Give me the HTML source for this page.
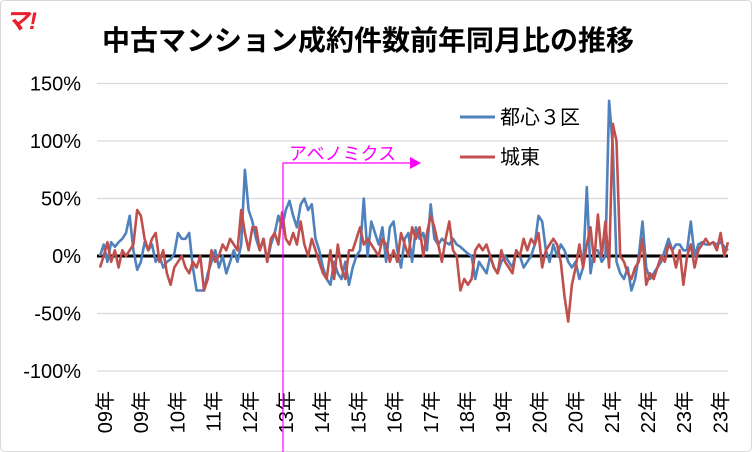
<!DOCTYPE html>
<html><head><meta charset="utf-8"><style>
body{margin:0;background:#fff}
svg{display:block;font-family:"Liberation Sans","Noto Sans CJK JP",sans-serif}
</style></head><body>
<svg width="752" height="452" viewBox="0 0 752 452">
<rect x="0.5" y="0.5" width="751" height="451" rx="4" fill="#fff" stroke="#d9d9d9"/>
<text x="5" y="29" font-size="24" font-weight="bold" font-style="italic" fill="#e8202a">マ!</text>
<text x="102" y="50" font-size="28" font-weight="bold" fill="#000">中古マンション成約件数前年同月比の推移</text>
<g id="grid"></g><g id="ylab"></g><g id="xlab"></g>
<line x1="97" y1="256" x2="728" y2="256" stroke="#000" stroke-width="3"/>
<g id="series"></g>
<g>
<line x1="460" y1="117" x2="495" y2="117" stroke="#4f81bd" stroke-width="3"/>
<text x="500" y="124" font-size="20">都心３区</text>
<line x1="460" y1="157" x2="495" y2="157" stroke="#c0504d" stroke-width="3"/>
<text x="500" y="164" font-size="20">城東</text>
</g>
<g>
<text x="289" y="160" font-size="18" fill="#ff00ff">アベノミクス</text>
<polyline points="283,452 283,163 412,163" fill="none" stroke="#ff00ff" stroke-width="1.2"/>
<polygon points="410,157 421,163 410,169" fill="#ff00ff"/>
</g>
</svg>
<script>
const yTicks=[150,100,50,0,-50,-100];
const xLabels=["09年","09年","10年","11年","12年","13年","14年","15年","16年","17年","18年","19年","20年","20年","21年","22年","23年","23年"];
const toshin=[0,10,-5,12,8,12,15,20,35,5,
-12,-5,12,5,10,-5,0,-10,-5,-3,
2,20,15,15,20,-10,-30,-30,-30,-15,
-5,5,-10,0,-15,-5,5,-5,10,75,
40,30,15,5,15,-5,10,20,35,25,
40,48,35,25,45,50,40,45,15,5,
-10,-20,-25,-5,-15,-20,-5,-25,-10,0,
5,50,0,30,20,10,25,-5,25,30,
5,-10,15,20,-5,25,15,20,5,45,
15,10,15,12,10,15,10,8,5,2,
0,-20,-5,-10,-15,0,-10,-15,-5,0,
-5,-10,5,0,-10,-5,0,10,35,30,
5,-5,10,0,10,5,-5,-10,-5,-20,
-10,60,-15,5,5,-5,0,135,95,-5,
-15,-20,-10,-30,-20,0,30,-10,-20,-15,
-10,-5,5,15,5,10,10,5,5,30,
0,10,12,10,10,12,10,12,8,5];
const joto=[-10,0,12,-5,5,-10,5,0,5,10,
40,35,15,5,15,20,-5,5,-15,-25,
-10,-5,0,-10,-15,-5,-10,0,-30,-20,
5,-5,0,10,5,15,10,5,40,20,
5,25,25,5,15,-5,15,20,10,38,
15,10,20,10,30,10,0,15,5,-5,
-15,-20,5,-20,10,-10,-20,5,5,15,
25,10,15,10,5,0,15,10,-5,5,
-5,20,10,0,25,15,25,0,20,35,
25,10,-5,15,30,5,0,-30,-20,-25,
-20,5,10,5,10,0,-10,-15,5,-5,
-10,-15,5,0,15,5,15,10,20,-10,
5,10,15,10,-5,-35,-57,-25,-10,10,
-10,10,25,-5,36,0,30,-10,115,100,
0,-5,-15,-20,-10,-5,15,-25,-15,-20,
-10,0,-5,10,5,-10,5,-25,0,10,
-10,5,10,15,10,12,5,20,0,12];
const NS="http://www.w3.org/2000/svg";
const x0=100,x1=728,y=v=>256-v*1.15;
const x=i=>x0+i*(x1-x0)/(toshin.length-1);
function mk(t,a,p){const e=document.createElementNS(NS,t);for(const k in a)e.setAttribute(k,a[k]);p.appendChild(e);return e;}
const grid=document.getElementById('grid'),ylab=document.getElementById('ylab'),xlab=document.getElementById('xlab'),ser=document.getElementById('series');
yTicks.forEach(v=>{
 if(v!==0){const l=mk('line',{x1:97,x2:728,y1:y(v),y2:y(v),stroke:'#d9d9d9','stroke-width':1.3},grid);
 
 }
 const t=mk('text',{x:81,y:y(v)+7,'font-size':20,'text-anchor':'end'},ylab);t.textContent=v+'%';
 
 
});
xLabels.forEach((s,i)=>{
 const px=105+i*36.2;
 const t=mk('text',{x:0,y:0,'font-size':20,'text-anchor':'end',transform:`translate(${px+7},391) rotate(-90)`},xlab);t.textContent=s;
 
 
});
function line(d,c,n){const p=mk('polyline',{points:d.map((v,i)=>x(i).toFixed(1)+','+y(v).toFixed(1)).join(' '),fill:'none',stroke:c,'stroke-width':2.6,'stroke-linejoin':'round'},ser);
 
 }
line(toshin,'#4f81bd','series-toshin-3ku');
line(joto,'#c0504d','series-joto');
</script>
</body></html>
